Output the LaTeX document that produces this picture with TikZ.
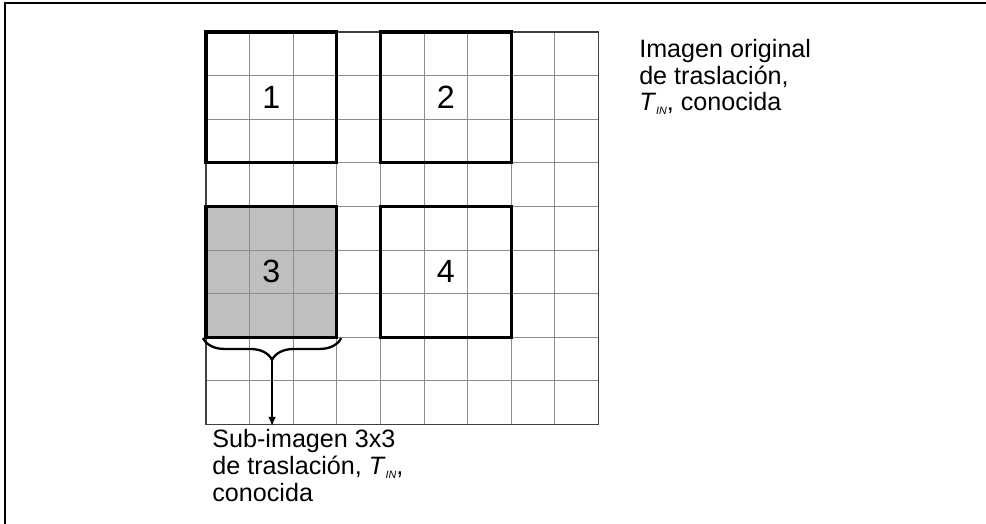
\documentclass[tikz,border=0pt]{standalone}
\usepackage{fontspec}
\setmainfont{Liberation Sans}
\usetikzlibrary{arrows.meta,decorations.pathreplacing}

\tikzset{
    gridline/.style={draw=gray!90, line width=0.6pt},
    subbox/.style={draw=black, line width=2pt, outer sep=0pt, inner sep=0pt,
        minimum size=3cm, anchor=south west, font=\fontsize{21}{24}\selectfont},
    caption/.style={font=\fontsize{16.4}{16.3}\selectfont, align=left, inner sep=0pt},
}
\newcommand{\tin}{\textit{T}\raisebox{-0.3ex}{\fontsize{7}{7}\selectfont\itshape IN}}

\begin{document}
\begin{tikzpicture}[>=stealth]
    \useasboundingbox (-4.725,-2.284) rectangle (17.89,9.734);
    % Frame (left and top edges)
    \draw[line width=1.3pt] (-4.61,-2.284) -- (-4.61,9.665) -- (17.89,9.665);

    % Shaded sub-image and the pixel grid
    \fill[gray!50] (0,2) rectangle (3,5);
    \draw[gridline] (0,0) grid (9,9);
    \draw[line width=0.8pt, black!75] (0,0) rectangle (9,9);

    % Sub-images 3x3
    \foreach \x/\y/\n in {0/6/1, 4/6/2, 0/2/3, 4/2/4} {
        \node[subbox] (box\n) at (\x,\y) {\n};
    }

    % Brace under sub-image 3 with arrow
    \coordinate (bl) at (-0.07,1.98);
    \coordinate (br) at (3.1,1.98);
    \draw[line width=1.5pt, decorate, decoration={brace, mirror, amplitude=0.5cm}] (bl) -- (br);
    \coordinate (tip) at (1.515,1.48);
    \coordinate (tipend) at (1.515,-0.04);
    \draw[line width=1.4pt, -{Latex[length=6pt, width=5pt]}] (tip) -- (tipend);

    % Captions (anchored at the baseline of the last line)
    \node[caption, anchor=base west] (subcap) at (0.14,-1.757)
        {Sub-imagen 3x3\\[1pt]de traslación, \tin,\\[1pt]conocida};
    \node[caption, anchor=base west] (maincap) at (9.93,7.195)
        {Imagen original\\[1pt]de traslación,\\[1pt]\tin, conocida};
\end{tikzpicture}
\end{document}
